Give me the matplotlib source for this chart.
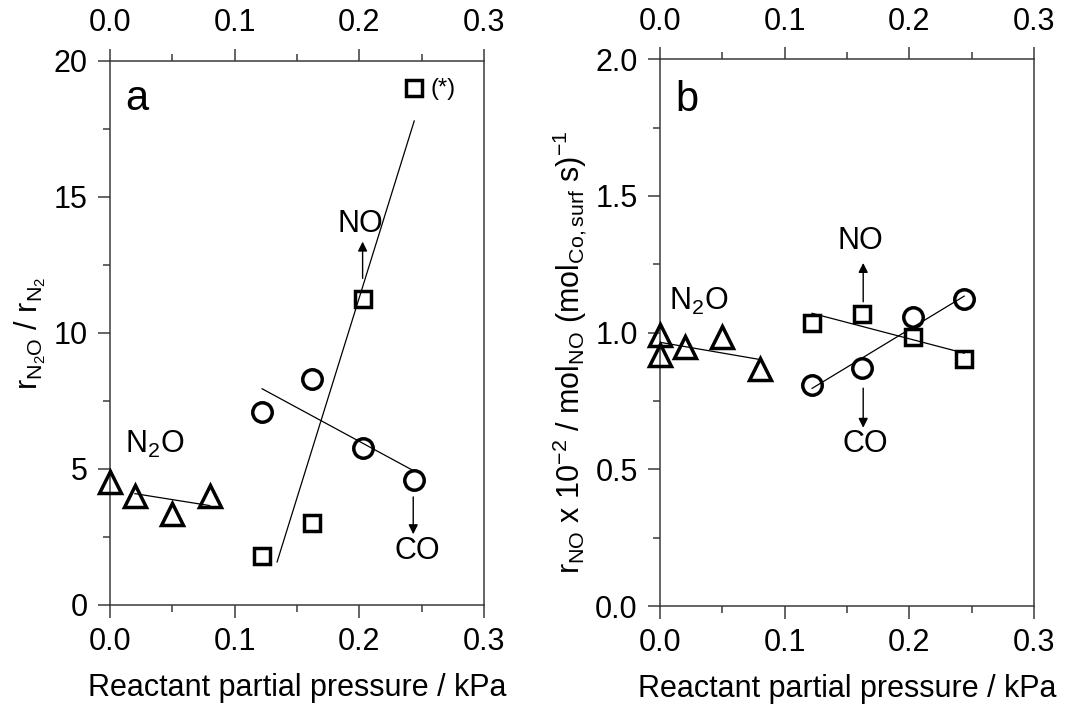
import numpy as np
import matplotlib
matplotlib.use("Agg")
import matplotlib.pyplot as plt

plt.rcParams['font.family'] = ['Liberation Sans', 'DejaVu Sans']
plt.rcParams['mathtext.fontset'] = 'custom'
plt.rcParams['mathtext.rm'] = 'Liberation Sans'
plt.rcParams['mathtext.it'] = 'Liberation Sans:italic'
plt.rcParams['mathtext.bf'] = 'Liberation Sans:bold'

# ---- data ----
# panel a: r_N2O / r_N2 vs reactant partial pressure (kPa)
p_n2o_a = [0.0, 0.02, 0.05, 0.08]
ratio_n2o = [4.5, 4.0, 3.35, 4.0]
p_co = [0.122, 0.162, 0.203, 0.244]
ratio_co = [7.1, 8.3, 5.75, 4.6]
p_no = [0.122, 0.162, 0.203, 0.244]
ratio_no = [1.8, 3.0, 11.25, 19.0]

# panel b: NO rate per surface Co (x 10^-2)
p_n2o_b = [0.0, 0.0, 0.02, 0.05, 0.08]
rate_n2o = [0.99, 0.918, 0.949, 0.983, 0.866]
rate_no = [1.037, 1.068, 0.985, 0.903]
rate_co = [0.809, 0.870, 1.056, 1.122]

x_ticks = [0.0, 0.1, 0.2, 0.3]
ya_ticks = [0, 5, 10, 15, 20]
yb_ticks = [0.0, 0.5, 1.0, 1.5, 2.0]

SPINE = '#3a3a3a'
TICK_FS = 22
LABEL_FS = 22

fig = plt.figure(figsize=(10.65, 7.06), dpi=100)
ax_a = fig.add_axes([0.1033, 0.1431, 0.3512, 0.7710])
ax_b = fig.add_axes([0.6197, 0.1416, 0.3512, 0.7744])


def style_axes(ax, yticks, ylim, yminor):
    ax.set_xlim(0, 0.3)
    ax.set_ylim(*ylim)
    ax.set_xticks(x_ticks)
    ax.set_xticklabels([f"{v:.1f}" for v in x_ticks])
    ax.set_xticks([0.05, 0.15, 0.25], minor=True)
    ax.set_yticks(yticks)
    ax.set_yticks(yminor, minor=True)
    for s in ax.spines.values():
        s.set_color(SPINE)
        s.set_linewidth(1.1)
    ax.tick_params(which='both', direction='out', color=SPINE, width=1.1,
                   top=True, labeltop=True, right=False,
                   labelsize=TICK_FS, pad=7)
    ax.tick_params(which='major', length=9)
    ax.tick_params(which='minor', length=5)
    ax.set_xlabel('Reactant partial pressure / kPa', fontsize=LABEL_FS)
    ax.xaxis.set_label_coords(0.5, -0.125)


def fit_line(ax, x, y, x0, x1):
    slope, icpt = np.polyfit(x, y, 1)
    xx = np.array([x0, x1])
    ax.plot(xx, slope * xx + icpt, color='black', lw=0.9, zorder=2)


mk = dict(ls='none', mfc='none', mec='black', mew=2.5, zorder=3, clip_on=False)

# ---- panel a ----
style_axes(ax_a, ya_ticks, (0, 20), [2.5, 7.5, 12.5, 17.5])
fit_line(ax_a, p_n2o_a, ratio_n2o, 0.02, 0.08)
fit_line(ax_a, p_co, ratio_co, p_co[0], p_co[-1])
fit_line(ax_a, p_no, ratio_no, 0.134, p_no[-1])
ax_a.plot(p_n2o_a, ratio_n2o, marker='^', ms=16, **mk)
ax_a.plot(p_co, ratio_co, marker='o', ms=14, **mk)
ax_a.plot(p_no, ratio_no, marker='s', ms=12, **mk)
ax_a.set_ylabel(r'r$_{\mathrm{N_2O}}$ / r$_{\mathrm{N_2}}$', fontsize=LABEL_FS)
ax_a.yaxis.set_label_coords(-0.165, 0.5)

ax_a.text(0.012, 18.6, 'a', fontsize=30, ha='left', va='center')
ax_a.text(0.036, 5.9, r'N$_2$O', fontsize=TICK_FS, ha='center', va='center')
ax_a.text(0.2005, 14.0, 'NO', fontsize=TICK_FS, ha='center', va='center')
ax_a.text(0.2466, 2.0, 'CO', fontsize=TICK_FS, ha='center', va='center')
ax_a.text(0.257, 18.95, '(*)', fontsize=17, ha='left', va='center')
arrow = dict(arrowstyle='-|>', color='black', lw=1.0, mutation_scale=14,
             shrinkA=0, shrinkB=0)
ax_a.annotate('', xy=(0.2026, 13.35), xytext=(0.2026, 12.0), arrowprops=arrow)
ax_a.annotate('', xy=(0.2432, 2.6), xytext=(0.2432, 3.97), arrowprops=arrow)

# ---- panel b ----
style_axes(ax_b, yb_ticks, (0, 2), [0.25, 0.75, 1.25, 1.75])
ax_b.set_yticklabels([f"{v:.1f}" for v in yb_ticks])
fit_line(ax_b, p_n2o_b, rate_n2o, 0.0, 0.08)
fit_line(ax_b, p_no, rate_no, p_no[0], p_no[-1])
fit_line(ax_b, p_co, rate_co, p_co[0], p_co[-1])
ax_b.plot(p_n2o_b, rate_n2o, marker='^', ms=16, **mk)
ax_b.plot(p_no, rate_no, marker='s', ms=12, **mk)
ax_b.plot(p_co, rate_co, marker='o', ms=14, **mk)
ax_b.set_ylabel(r'r$_{\mathrm{NO}}$ x 10$^{-2}$ / mol$_{\mathrm{NO}}$ '
                r'(mol$_{\mathrm{Co,surf}}$ s)$^{-1}$', fontsize=LABEL_FS)
ax_b.yaxis.set_label_coords(-0.19, 0.465)

ax_b.text(0.012, 1.85, 'b', fontsize=30, ha='left', va='center')
ax_b.text(0.031, 1.115, r'N$_2$O', fontsize=TICK_FS, ha='center', va='center')
ax_b.text(0.1608, 1.337, 'NO', fontsize=TICK_FS, ha='center', va='center')
ax_b.text(0.1648, 0.593, 'CO', fontsize=TICK_FS, ha='center', va='center')
ax_b.annotate('', xy=(0.163, 1.255), xytext=(0.163, 1.113), arrowprops=arrow)
ax_b.annotate('', xy=(0.163, 0.652), xytext=(0.163, 0.797), arrowprops=arrow)

fig.savefig('out.png', dpi=100)
